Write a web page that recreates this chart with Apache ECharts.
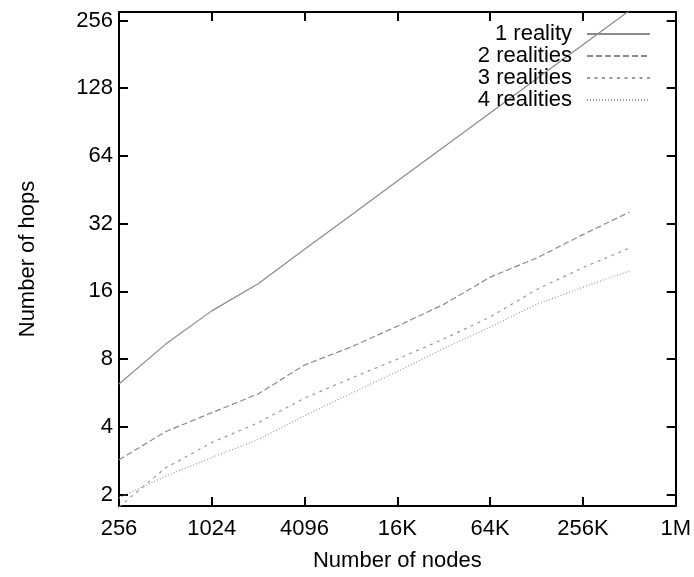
<!DOCTYPE html>
<html>
<head>
<meta charset="utf-8">
<style>
html,body{margin:0;padding:0;background:#fff;}
#chart{width:694px;height:577px;}
</style>
<script src="https://cdn.jsdelivr.net/npm/echarts@6/dist/echarts.min.js"></script>
</head>
<body>
<div id="chart"></div>
<script>
// ---- data ----
var nodes = [256, 512, 1024, 2048, 4096, 8192, 16384, 32768, 65536, 131072, 262144, 524288];
var reality1 = [6.2, 9.3, 13.1, 17.3, 24.6, 34.9, 49.5, 70.1, 99.4, 141, 200, 283];
var reality2 = [2.85, 3.8, 4.62, 5.6, 7.53, 9.05, 11.2, 14.0, 18.5, 22.5, 28.6, 36];
var reality3 = [1.76, 2.62, 3.40, 4.17, 5.36, 6.57, 7.99, 9.82, 12.3, 16.3, 20.4, 24.9];
var reality4 = [1.93, 2.41, 2.92, 3.51, 4.48, 5.62, 7.05, 8.91, 11.1, 14.0, 16.7, 19.7];
var seriesNames = ['1 reality', '2 realities', '3 realities', '4 realities'];
var xTickValues = [256, 1024, 4096, 16384, 65536, 262144, 1048576];
var xTickLabels = ['256', '1024', '4096', '16K', '64K', '256K', '1M'];
var yTickValues = [2, 4, 8, 16, 32, 64, 128, 256];
var yTickLabels = ['2', '4', '8', '16', '32', '64', '128', '256'];

function pairs(ys) { return nodes.map(function (x, i) { return [x, ys[i]]; }); }
function xLabel(v) {
  for (var i = 0; i < xTickValues.length; i++) {
    if (Math.abs(Math.log2(v) - Math.log2(xTickValues[i])) < 1e-6) return xTickLabels[i];
  }
  return '';
}
function yLabel(v) {
  for (var i = 0; i < yTickValues.length; i++) {
    if (Math.abs(Math.log2(v) - Math.log2(yTickValues[i])) < 1e-6) return yTickLabels[i];
  }
  return '';
}

var FONT = 'Liberation Sans';
var X_MIN = 256, X_MAX = 1048576, Y_MIN = 1.777, Y_MAX = 279.4;

var axisCommon = {
  axisLine: { show: true, lineStyle: { color: '#000', width: 2 } },
  axisTick: { show: true, inside: true, length: 9, lineStyle: { color: '#000', width: 2 } },
  splitLine: { show: false },
  minorTick: { show: false }
};

var chart = echarts.init(document.getElementById('chart'), null, { renderer: 'canvas' });
chart.setOption({
  animation: false,
  backgroundColor: '#fff',
  textStyle: { fontFamily: FONT },
  grid: { left: 119, right: 17, top: 12, bottom: 67, containLabel: false },
  legend: {
    orient: 'vertical',
    right: 38,
    top: 18,
    align: 'right',
    itemWidth: 63,
    itemHeight: 14,
    itemGap: 0,
    selectedMode: false,
    itemStyle: { opacity: 0, borderWidth: 0 },
    textStyle: { fontFamily: FONT, fontSize: 22, color: '#000', lineHeight: 22, padding: [0, 10, 0, 0] },
    data: seriesNames
  },
  xAxis: [
    Object.assign({}, axisCommon, {
      type: 'log', logBase: 2, min: X_MIN, max: X_MAX, interval: 2, position: 'bottom',
      name: 'Number of nodes', nameLocation: 'middle', nameGap: 44,
      nameTextStyle: { fontFamily: FONT, fontSize: 22, color: '#000' },
      axisLabel: { show: true, margin: 12, fontFamily: FONT, fontSize: 22, color: '#000', formatter: xLabel }
    }),
    Object.assign({}, axisCommon, {
      type: 'log', logBase: 2, min: X_MIN, max: X_MAX, interval: 2, position: 'top',
      axisLabel: { show: false }
    })
  ],
  yAxis: [
    Object.assign({}, axisCommon, {
      type: 'log', logBase: 2, min: Y_MIN, max: Y_MAX, splitNumber: 7, position: 'left',
      name: 'Number of hops', nameLocation: 'middle', nameGap: 80, nameRotate: 90,
      nameTextStyle: { fontFamily: FONT, fontSize: 22, color: '#000' },
      axisLabel: { show: true, margin: 6, fontFamily: FONT, fontSize: 22, color: '#000',
        showMinLabel: false, showMaxLabel: false, formatter: yLabel }
    }),
    Object.assign({}, axisCommon, {
      type: 'log', logBase: 2, min: Y_MIN, max: Y_MAX, splitNumber: 7, position: 'right',
      axisLabel: { show: false }
    })
  ],
  series: [
    { name: seriesNames[0], type: 'line', data: pairs(reality1), symbol: 'none', clip: true,
      lineStyle: { color: '#8a8a8a', width: 1.2, type: 'solid' }, itemStyle: { color: '#8a8a8a' } },
    { name: seriesNames[1], type: 'line', data: pairs(reality2), symbol: 'none', clip: true,
      lineStyle: { color: '#8a8a8a', width: 1.2, type: [6, 3] }, itemStyle: { color: '#8a8a8a' } },
    { name: seriesNames[2], type: 'line', data: pairs(reality3), symbol: 'none', clip: true,
      lineStyle: { color: '#999', width: 1.2, type: [3, 4.5] }, itemStyle: { color: '#999' } },
    { name: seriesNames[3], type: 'line', data: pairs(reality4), symbol: 'none', clip: true,
      lineStyle: { color: '#999', width: 1.2, type: [1, 2] }, itemStyle: { color: '#999' } }
  ]
});
</script>
</body>
</html>
